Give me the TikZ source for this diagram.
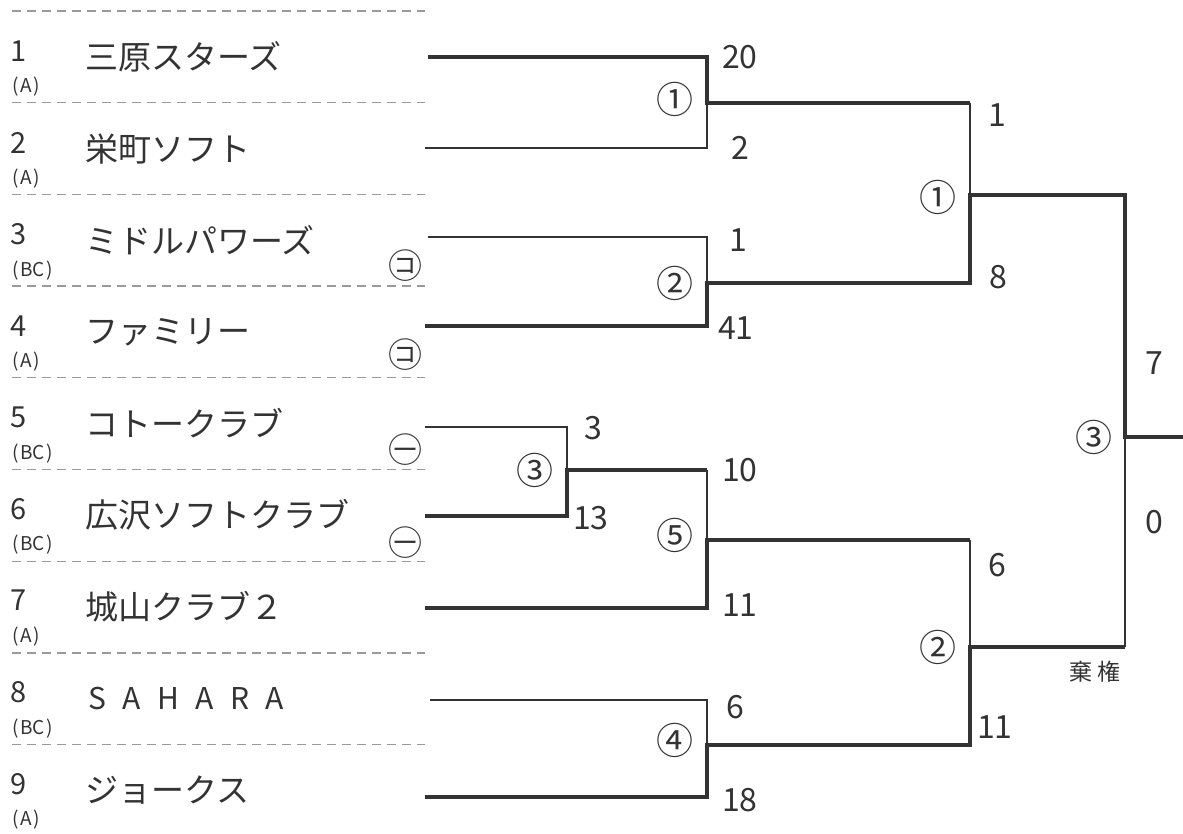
\documentclass[tikz,border=0pt]{standalone}
\usepackage{fontspec}
\setmainfont{Noto Sans CJK JP}
\newfontfamily\widefont[LetterSpace=55]{Noto Sans CJK JP}
\definecolor{ink}{HTML}{333333}
\definecolor{sepgray}{HTML}{9A9A9A}
\begin{document}
\begin{tikzpicture}[x=1pt,y=-1pt,
  every node/.style={inner sep=0pt,text=ink},
  win/.style={draw=ink,line width=3.6pt},
  lose/.style={draw=ink,line width=1.3pt},
  sepline/.style={draw=sepgray,line width=1.2pt,dash pattern=on 9pt off 6pt},
  seed/.style={font=\fontsize{29}{29}\selectfont,anchor=west},
  grp/.style={font=\fontsize{19}{19}\selectfont,anchor=west},
  team/.style={font=\fontsize{33}{33}\selectfont,anchor=west},
  score/.style={font=\fontsize{32}{32}\selectfont,anchor=west},
  mnum/.style={font=\fontsize{37}{37}\selectfont,anchor=center},
  cmark/.style={font=\fontsize{34}{34}\selectfont,anchor=center}]
\useasboundingbox (0,0) rectangle (1183,834);

% separators
\foreach \i in {0,...,8} {
  \coordinate (sa\i) at (12,11+91.7*\i);
  \coordinate (sb\i) at (425,11+91.7*\i);
  \draw[sepline] (sa\i) -- (sb\i);
}

% seeds, groups, names
\foreach \i/\n/\g in {0/1/A,1/2/A,2/3/BC,3/4/A,4/5/BC,5/6/BC,6/7/A,7/8/BC,8/9/A} {
  \node[seed] (n\i) at (10,51+91.6*\i) {\n};
  \node[grp] (g\i) at (12,87+91.6*\i) {(\kern1.5pt\g\kern1.5pt)};
}
\node[team] (name1) at (85,57) {三原スターズ};
\node[team] (name2) at (85,148.6) {栄町ソフト};
\node[team] (name3) at (85,240.2) {ミドルパワーズ};
\node[team] (name4) at (85,331.8) {ファミリー};
\node[team] (name5) at (85,423.4) {コトークラブ};
\node[team] (name6) at (85,515) {広沢ソフトクラブ};
\node[team] (name7) at (85,606.6) {城山クラブ２};
\node[team,font=\widefont\fontsize{30}{30}\selectfont] (name8) at (88,698.2) {SAHARA};
\node[team] (name9) at (85,789.8) {ジョークス};

% small marks
\node[cmark] (k1) at (405,266) {㋙};
\node[cmark] (k2) at (405,355) {㋙};
\node[cmark] (k3) at (405,450) {㊀};
\node[cmark] (k4) at (405,543) {㊀};

% bracket coordinates
\coordinate (t1) at (428,57);
\coordinate (t2) at (425,148);
\coordinate (t3) at (428,237);
\coordinate (t4) at (425,326);
\coordinate (t5) at (425,427);
\coordinate (t6) at (425,516);
\coordinate (t7) at (425,608);
\coordinate (t8) at (430,700);
\coordinate (t9) at (425,797);
\coordinate (mA) at (707,103); \coordinate (oA) at (970,103);
\coordinate (mB) at (707,283); \coordinate (oB) at (970,283);
\coordinate (mC) at (567,470); \coordinate (oC) at (707,470);
\coordinate (mD) at (707,540); \coordinate (oD) at (970,540);
\coordinate (mE) at (707,745); \coordinate (oE) at (970,745);
\coordinate (mF) at (970,195); \coordinate (oF) at (1125,195);
\coordinate (mG) at (970,647); \coordinate (oG) at (1125,647);
\coordinate (mH) at (1125,437); \coordinate (oH) at (1183,437);

% losers (thin)
\draw[lose] (t2) -| (mA);
\draw[lose] (t3) -| (mB);
\draw[lose] (t5) -| (mC);
\draw[lose] (oC) -- (mD);
\draw[lose] (t8) -| (mE);
\draw[lose] (oA) -- (mF);
\draw[lose] (oD) -- (mG);
\draw[lose] (oG) -- (mH);

% winners (thick)
\draw[win] (t1) -| (mA) -- (oA);
\draw[win] (t4) -| (mB) -- (oB) -- (mF) -- (oF) -- (mH) -- (oH);
\draw[win] (t6) -| (mC) -- (oC);
\draw[win] (t7) -| (mD) -- (oD);
\draw[win] (t9) -| (mE) -- (oE) -- (mG) -- (oG);

% match numbers
\node[mnum] (cA) at (675,99) {①};
\node[mnum] (cB) at (675,283) {②};
\node[mnum] (cC) at (535,470) {③};
\node[mnum] (cD) at (675,535) {⑤};
\node[mnum] (cE) at (675,740) {④};
\node[mnum] (cF) at (938,197) {①};
\node[mnum] (cG) at (938,647) {②};
\node[mnum] (cH) at (1094,437) {③};

% scores
\node[score] (s1) at (722,57) {20};
\node[score] (s2) at (731,148) {2};
\node[score] (s3) at (729,240) {1};
\node[score] (s4) at (718,328) {41};
\node[score] (s5) at (584,428) {3};
\node[score] (s6) at (573,518) {13};
\node[score] (s7) at (722,470) {10};
\node[score] (s8) at (722,605) {11};
\node[score] (s9) at (726,707) {6};
\node[score] (s10) at (722,800) {18};
\node[score] (s11) at (988,115) {1};
\node[score] (s12) at (989,277) {8};
\node[score] (s13) at (988,565) {6};
\node[score] (s14) at (977,727) {11};
\node[score] (s15) at (1145,363) {7};
\node[score] (s16) at (1145,522) {0};
\node[font=\fontsize{23}{23}\selectfont,anchor=center] (kiken) at (1095,672) {棄\hspace{5pt}権};
\end{tikzpicture}
\end{document}
